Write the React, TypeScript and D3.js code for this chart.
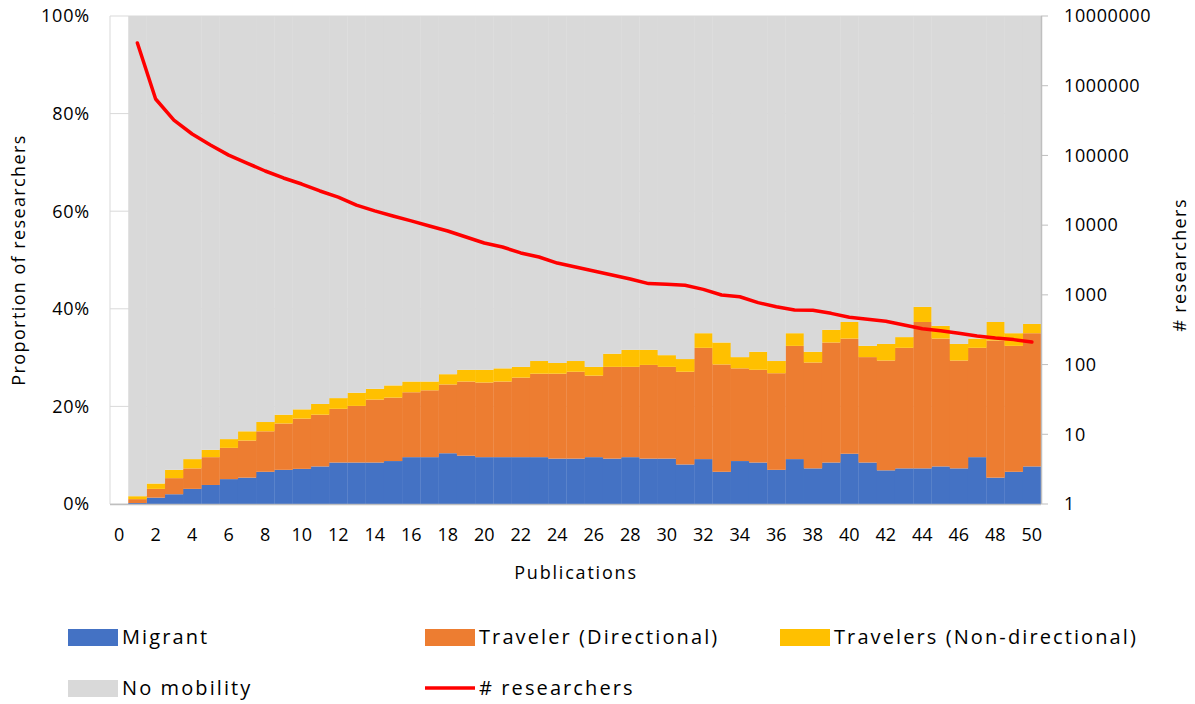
import React from "react";
import * as d3 from "d3";

const publications = d3.range(0, 51);
const migrant = [0.2,1.3,2.0,3.1,3.9,5.1,5.4,6.6,7.0,7.2,7.7,8.5,8.5,8.5,8.8,9.6,9.6,10.4,9.9,9.6,9.6,9.6,9.6,9.3,9.3,9.6,9.3,9.6,9.3,9.3,8.1,9.2,6.6,8.8,8.5,7.0,9.2,7.3,8.5,10.3,8.5,6.9,7.3,7.3,7.7,7.3,9.6,5.4,6.6,7.7];
const directional = [0.8,1.8,3.3,4.2,5.7,6.4,7.6,8.3,9.5,10.3,10.6,11.0,11.6,12.9,13.0,13.3,13.7,14.1,15.2,15.3,15.5,16.3,17.1,17.4,17.8,16.7,18.8,18.5,19.2,18.8,19.0,22.8,22.0,19.0,19.0,19.8,23.2,21.7,24.6,23.6,21.6,22.5,24.7,30.0,26.2,22.1,22.4,28.1,25.8,27.3];
const nondirectional = [0.6,1.1,1.7,1.9,1.5,1.8,1.9,1.9,1.8,1.9,2.2,2.2,2.7,2.2,2.5,2.2,1.8,2.1,2.4,2.6,2.7,2.2,2.6,2.2,2.2,1.8,2.7,3.5,3.1,2.4,2.6,3.0,4.5,2.3,3.7,2.5,2.6,2.2,2.6,3.4,2.3,3.4,2.2,3.1,2.6,3.4,1.9,3.8,2.6,1.9];
const researchers = [4100000,645000,322000,203000,141000,101000,77800,59800,47500,38900,30900,25300,19400,16000,13500,11500,9720,8240,6760,5540,4860,3990,3490,2860,2510,2200,1930,1690,1450,1420,1370,1200,995,940,773,676,607,601,543,476,446,418,370,327,306,281,257,240,228,211];
const leftTicks = [0, 0.2, 0.4, 0.6, 0.8, 1.0];
const rightTicks = [1, 10, 100, 1000, 10000, 100000, 1000000, 10000000];
const xTickLabels = d3.range(0, 51, 2);

const seriesKeys = ["migrant", "directional", "nondirectional", "none"];
const seriesNames = ["Migrant", "Traveler (Directional)", "Travelers (Non-directional)", "No mobility"];
const colors = ["#4472C4", "#ED7D31", "#FFC000", "#D9D9D9"];

const FONT = "'Open Sans', sans-serif";

export default function App() {
  const W = 1195, H = 704;
  const left = 110, right = 1041, top = 16, bottom = 504;

  const rows = migrant.map((m, i) => ({
    pub: i + 1,
    migrant: m / 100,
    directional: directional[i] / 100,
    nondirectional: nondirectional[i] / 100,
    none: 1 - (m + directional[i] + nondirectional[i]) / 100,
  }));

  const x = d3.scaleBand<number>().domain(publications).range([left, right]).paddingInner(0).paddingOuter(0);
  const y = d3.scaleLinear().domain([0, 1]).range([bottom, top]);
  const yR = d3.scaleLog().domain([1, 10000000]).range([bottom, top]);

  const stacked = d3.stack<any>().keys(seriesKeys)(rows);

  const line = d3.line<number>()
    .x((_, i) => (x(i + 1) as number) + x.bandwidth() / 2)
    .y((d) => yR(d));

  const bw = x.bandwidth();

  return (
    <svg width={W} height={H} style={{ position: "absolute", left: 0, top: 0, background: "#fff" }} fontFamily={FONT}>
      {/* gridlines */}
      {leftTicks.map((t) => (
        <line key={"g" + t} x1={left} x2={right} y1={y(t)} y2={y(t)} stroke="#D9D9D9" strokeWidth={1} />
      ))}
      <line x1={left} x2={left} y1={top} y2={bottom} stroke="#D9D9D9" strokeWidth={1} />

      {/* stacked bars */}
      {stacked.map((s, si) => (
        <g key={s.key} fill={colors[si]}>
          {s.map((d, i) => (
            <rect
              key={i}
              x={x(d.data.pub) as number}
              width={bw + 0.3}
              y={y(d[1])}
              height={Math.max(0, y(d[0]) - y(d[1]))}
            />
          ))}
        </g>
      ))}

      {/* axes */}
      <line x1={left} x2={right} y1={bottom + 0.5} y2={bottom + 0.5} stroke="#BFBFBF" strokeWidth={1.5} />
      <line x1={right + 0.5} x2={right + 0.5} y1={top} y2={bottom} stroke="#BFBFBF" strokeWidth={1.5} />
      {rightTicks.map((t) => (
        <line key={"rt" + t} x1={right} x2={right + 7} y1={yR(t)} y2={yR(t)} stroke="#BFBFBF" strokeWidth={1} />
      ))}

      {/* line */}
      <path d={line(researchers) || ""} fill="none" stroke="#FF0000" strokeWidth={3.5} strokeLinejoin="round" strokeLinecap="round" />

      {/* left tick labels */}
      {leftTicks.map((t) => (
        <text key={"lt" + t} x={90} y={y(t)} dy="0.35em" textAnchor="end" fontSize={18} letterSpacing={0.8} fill="#000">
          {d3.format(".0%")(t)}
        </text>
      ))}
      {/* right tick labels */}
      {rightTicks.map((t) => (
        <text key={"rl" + t} x={1064} y={yR(t)} dy="0.35em" textAnchor="start" fontSize={18} fill="#000" letterSpacing={0.6}>
          {String(t)}
        </text>
      ))}
      {/* x tick labels */}
      {xTickLabels.map((t) => (
        <text key={"xt" + t} x={(x(t) as number) + bw / 2} y={535} dy="0.35em" textAnchor="middle" fontSize={18} fill="#000">
          {t}
        </text>
      ))}

      {/* axis titles */}
      <text x={576} y={573} dy="0.35em" textAnchor="middle" fontSize={18} letterSpacing={1.8} fill="#000">Publications</text>
      <text transform={`translate(19,260) rotate(-90)`} dy="0.35em" textAnchor="middle" fontSize={18} letterSpacing={1.4} fill="#000">Proportion of researchers</text>
      <text transform={`translate(1180,265) rotate(-90)`} dy="0.35em" textAnchor="middle" fontSize={18} letterSpacing={1.4} fill="#000"># researchers</text>

      {/* legend */}
      {[
        { sx: 68, sy: 637, i: 0 },
        { sx: 425, sy: 637, i: 1 },
        { sx: 780, sy: 637, i: 2 },
        { sx: 68, sy: 688, i: 3 },
      ].map(({ sx, sy, i }) => (
        <g key={"lg" + i}>
          <rect x={sx} y={sy - 8} width={50} height={17} fill={colors[i]} />
          <text x={sx + 54} y={sy} dy="0.35em" fontSize={20} letterSpacing={2.1} fill="#000">{seriesNames[i]}</text>
        </g>
      ))}
      <g>
        <line x1={425} x2={475} y1={688} y2={688} stroke="#FF0000" strokeWidth={3.5} />
        <text x={479} y={688} dy="0.35em" fontSize={20} letterSpacing={2.1} fill="#000"># researchers</text>
      </g>
    </svg>
  );
}
